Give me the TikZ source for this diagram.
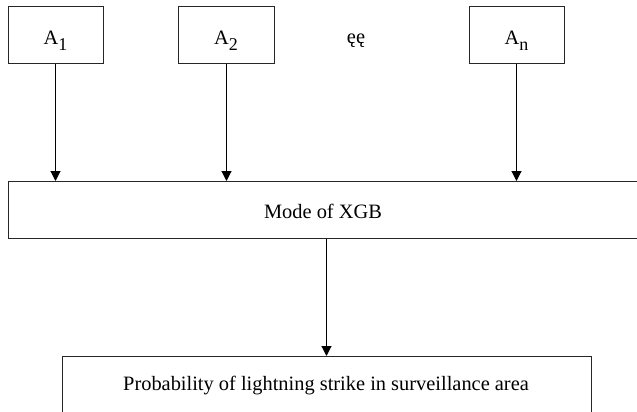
\documentclass[tikz,border=0pt]{standalone}
\usepackage{fontspec}
\setmainfont{Liberation Serif}
\usetikzlibrary{arrows.meta}
\begin{document}
\begin{tikzpicture}[x=0.5pt,y=-0.5pt,
  box/.style={draw=black!85, line width=0.65pt, inner sep=0pt, anchor=north west},
  lbl/.style={anchor=base, inner sep=0pt, font=\fontsize{10.2}{12}\selectfont},
  arr/.style={line width=0.55pt, -{Triangle[length=5pt,width=5pt]}}]
\useasboundingbox (0,0) rectangle (637,412);
\clip (0,0) rectangle (637,412);
\fill[white] (0,0) rectangle (637,412);
% input boxes
\node[box, minimum width=47.5pt, minimum height=28.5pt] (a1) at (8,6) {};
\node[box, minimum width=48pt, minimum height=28.5pt] (a2) at (178,6) {};
\node[box, minimum width=47.5pt, minimum height=28.5pt] (an) at (469,6) {};
\node[lbl] (t1) at (55.5,44.5) {A\raisebox{-0.6ex}{\small 1}};
\node[lbl] (t2) at (226,44.5) {A\raisebox{-0.6ex}{\small 2}};
\node[lbl] (tn) at (516.5,44.5) {A\raisebox{-0.6ex}{\small n}};
\node[lbl] (dots) at (356,43) {ęę};
% model box
\node[box, minimum width=322pt, minimum height=28.5pt] (mode) at (8,181) {};
\node[lbl] (tm) at (323,218) {Mode of XGB};
% output box
\node[box, minimum width=264.5pt, minimum height=40pt] (out) at (62,356) {};
\node[lbl] (to) at (326,390) {Probability of lightning strike in surveillance area};
% arrows
\coordinate (m1) at (55.5,181);
\coordinate (m2) at (226.5,181);
\coordinate (mn) at (516.5,181);
\draw[arr] (a1.south -| m1) -- (m1);
\draw[arr] (a2.south -| m2) -- (m2);
\draw[arr] (an.south -| mn) -- (mn);
\coordinate (o1) at (326.5,356);
\draw[arr] (mode.south -| o1) -- (o1);
\end{tikzpicture}
\end{document}
